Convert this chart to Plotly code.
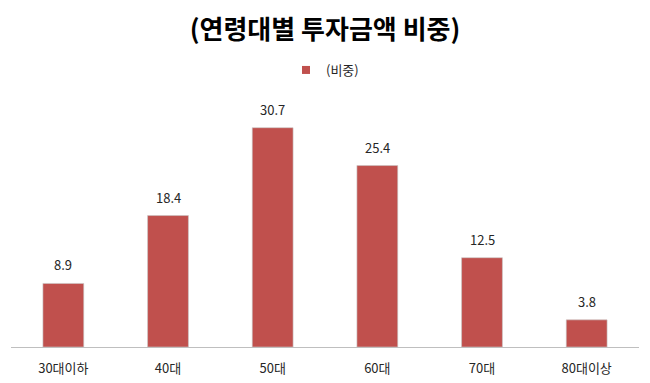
import plotly.graph_objects as go

categories = ["30대이하", "40대", "50대", "60대", "70대", "80대이상"]
values = [8.9, 18.4, 30.7, 25.4, 12.5, 3.8]
series_name = "(비중)"
title_text = "(연령대별 투자금액 비중)"

font_family = "Noto Sans CJK KR, Malgun Gothic, sans-serif"
bar_color = "#C0504D"

fig = go.Figure()
fig.add_trace(go.Bar(
    x=categories,
    y=values,
    name=series_name,
    marker=dict(color=bar_color, line=dict(width=1, color="rgba(200,200,200,0.6)")),
    width=0.39,
    showlegend=False,
))
# legend entry with a small square marker
fig.add_trace(go.Scatter(
    x=[categories[0]], y=[None],
    mode="markers",
    name=series_name,
    marker=dict(symbol="square", size=8, color=bar_color),
    showlegend=True,
))

for c, v in zip(categories, values):
    fig.add_annotation(
        x=c, y=v, text=f"{v:.1f}",
        showarrow=False, yanchor="bottom", yshift=7,
        font=dict(size=13, color="#262626", family=font_family),
    )

fig.update_layout(
    width=650, height=383,
    margin=dict(l=11, r=11, t=97, b=36),
    paper_bgcolor="white",
    plot_bgcolor="white",
    font=dict(family=font_family, size=13, color="#262626"),
    title=dict(
        text="<b>" + title_text + "</b>",
        x=0.5, xanchor="center",
        y=1 - 30 / 383, yanchor="middle",
        font=dict(size=26, color="#000000", family=font_family),
    ),
    showlegend=True,
    legend=dict(
        orientation="h",
        x=0.5, xanchor="center",
        y=1.108, yanchor="middle",
        font=dict(size=13, color="#262626"),
        itemwidth=30,
    ),
    xaxis=dict(
        showline=True, linecolor="#BFBFBF", linewidth=1,
        ticks="", showgrid=False,
        tickfont=dict(size=13, color="#262626"),
        ticklabelstandoff=9,
        automargin=False,
    ),
    yaxis=dict(
        visible=False, range=[0, 35],
        showgrid=False, zeroline=False,
        automargin=False,
    ),
    bargap=0.61,
)

fig.write_html("out.html")
